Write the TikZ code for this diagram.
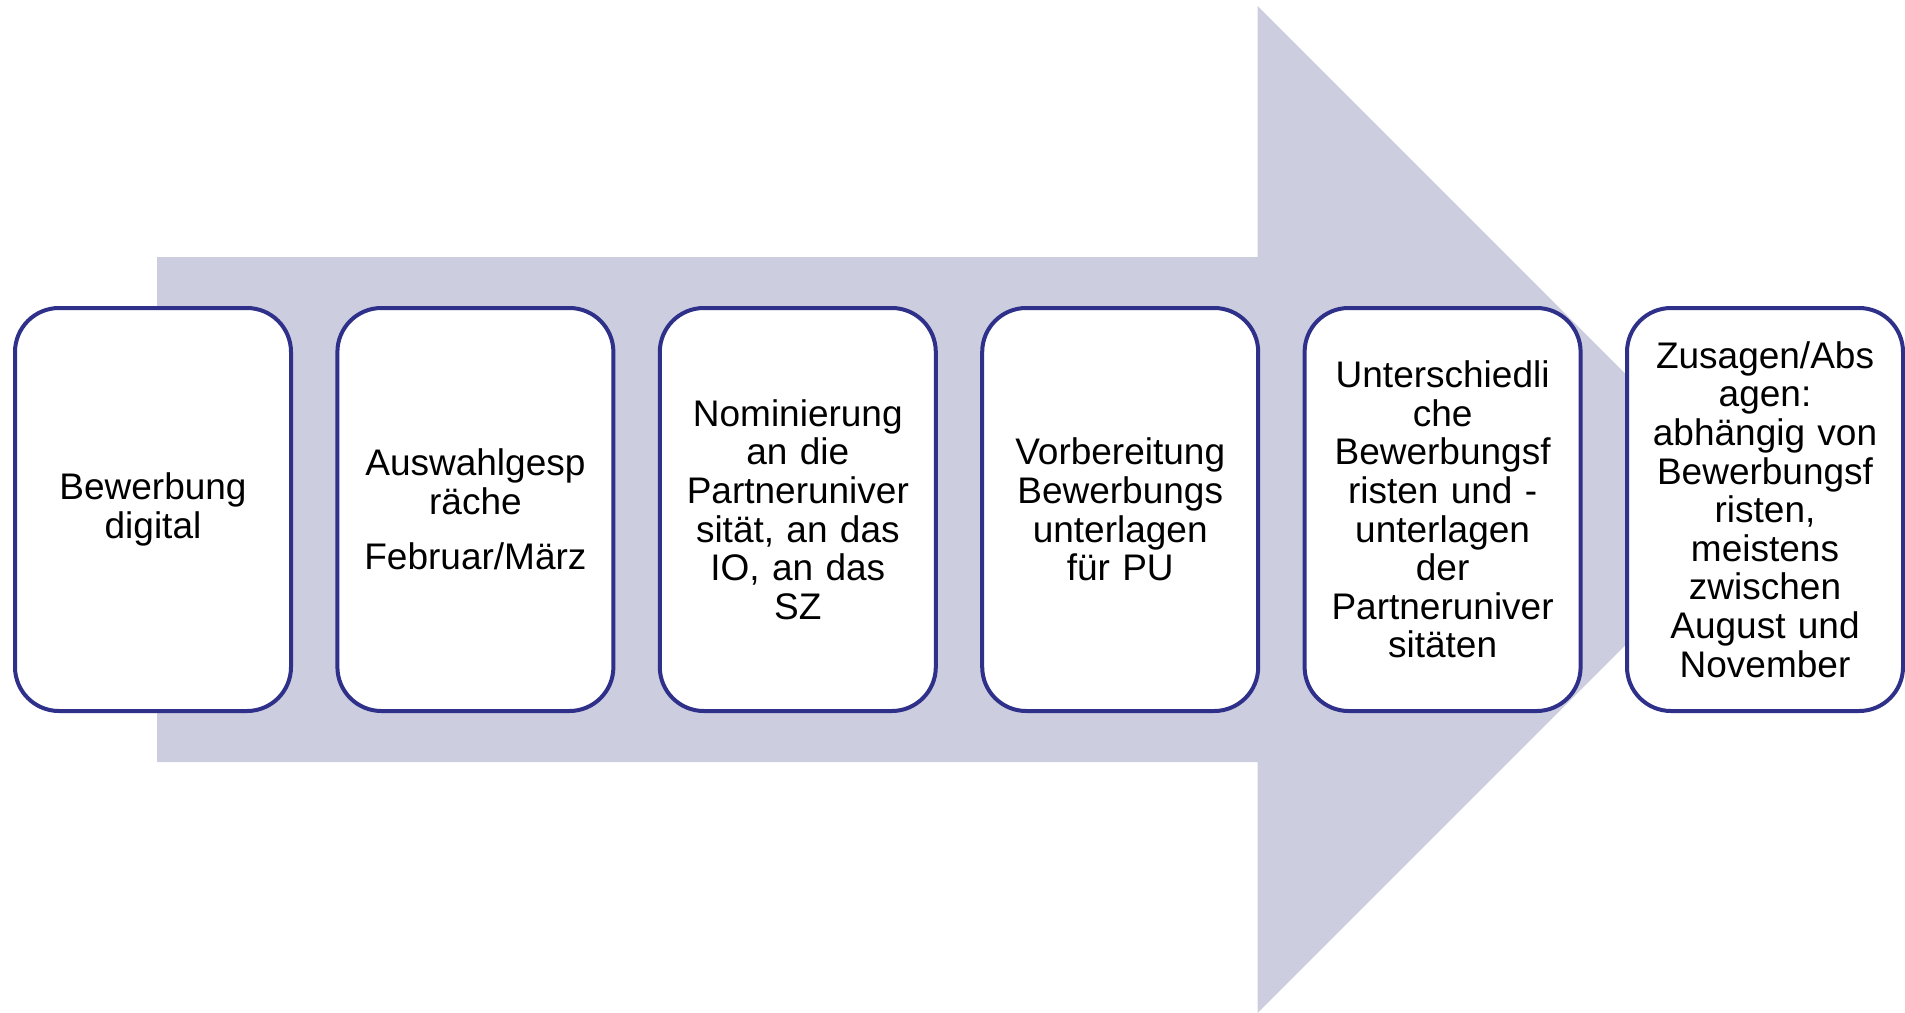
\documentclass[tikz,border=0pt]{standalone}
\usepackage{fontspec}
\setmainfont{Liberation Sans}
\definecolor{arrowfill}{RGB}{205,205,224}
\definecolor{boxline}{RGB}{46,48,137}
\begin{document}
\begin{tikzpicture}[x=1pt,y=-1pt,
  stepbox/.style={draw=boxline, line width=4pt, fill=white, rounded corners=44pt,
    minimum width=276pt, minimum height=403pt, inner sep=0pt, align=center,
    text width=270pt, font=\fontsize{37}{38.6}\selectfont}]
\useasboundingbox (0,0) rectangle (1905,1012);
\fill[arrowfill] (157,257) -- (1257.5,257) -- (1257.5,6) -- (1761,509.5) -- (1257.5,1013) -- (1257.5,762) -- (157,762) -- cycle;
\node[stepbox] (b1) at (153,509.5) {Bewerbung\\digital};
\node[stepbox] (b2) at (475.4,509.5) {Auswahlgesp\\räche\\[17pt]Februar/März};
\node[stepbox] (b3) at (797.8,509.5) {Nominierung\\an die\\Partneruniver\\sität, an das\\IO, an das\\SZ};
\node[stepbox] (b4) at (1120.2,509.5) {Vorbereitung\\Bewerbungs\\unterlagen\\für PU};
\node[stepbox] (b5) at (1442.6,509.5) {Unterschiedli\\che\\Bewerbungsf\\risten und -\\unterlagen\\der\\Partneruniver\\sitäten};
\node[stepbox] (b6) at (1765,509.5) {Zusagen/Abs\\agen:\\abhängig von\\Bewerbungsf\\risten,\\meistens\\zwischen\\August und\\November};
\end{tikzpicture}
\end{document}
